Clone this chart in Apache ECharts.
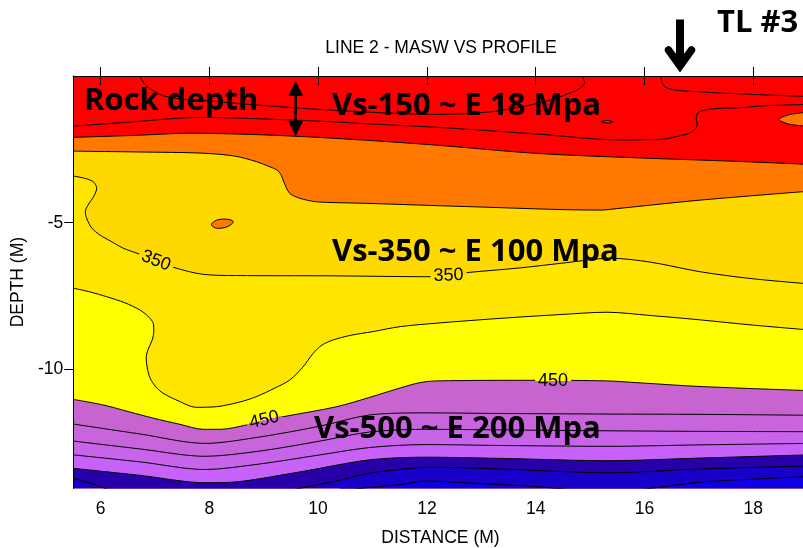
<!DOCTYPE html>
<html><head><meta charset="utf-8">
<script src="https://cdn.jsdelivr.net/npm/echarts@6/dist/echarts.min.js"></script>
<style>html,body{margin:0;padding:0;overflow:hidden;background:#fff;width:803px;height:548px}#c{width:830px;height:548px}</style>
</head><body><div id="c"></div>
<script>
// ---- data (distance in m, depth in m) ----
const xTicks = [6, 8, 10, 12, 14, 16, 18];
const yTicks = [-5, -10];
const topEdge = [[5.5, 0], [19, 0]];
const redLine1 = [[6.72,0],[6.75,-0.10],[6.81,-0.27],[6.95,-0.48],[7.15,-0.67],[7.55,-0.80],[7.94,-0.84],[8.80,-0.98],[10.40,-1.18],[12.20,-1.31],[13.12,-1.23],[13.71,-1.06],[14.23,-0.84],[14.63,-0.58],[14.82,-0.41],[14.90,-0.22],[14.85,0]];
const redLine2 = [[16.30,0],[16.32,-0.20],[16.38,-0.38],[16.62,-0.49],[17.66,-0.60],[19.0,-0.70]];
const redLine3 = [[5.5,-1.71],[6.54,-1.57],[7.83,-1.41],[9.78,-1.52],[11.14,-1.65],[12.20,-1.75],[14.04,-1.98],[15.57,-2.18],[16.29,-2.16],[16.65,-2.04],[16.87,-1.91],[16.97,-1.67],[16.95,-1.43],[17.00,-1.23],[17.24,-1.12],[17.76,-1.08],[18.25,-1.01],[19.0,-0.97]];
const orangeTop = [[5.5,-2.09],[6.54,-2.03],[7.70,-1.95],[8.75,-1.99],[9.78,-2.07],[11.14,-2.22],[12.20,-2.36],[14.04,-2.64],[15.88,-2.79],[17.72,-2.91],[19.0,-3.01]];
const goldTop = [[5.5,-2.56],[6.73,-2.59],[7.88,-2.63],[8.47,-2.73],[8.87,-2.92],[9.08,-3.07],[9.24,-3.20],[9.32,-3.37],[9.37,-3.61],[9.48,-4.00],[9.67,-4.17],[9.94,-4.28],[10.22,-4.31],[10.89,-4.34],[12.73,-4.45],[15.18,-4.57],[15.49,-4.52],[17.02,-4.23],[19.0,-3.93]];
const contour350 = [[5.5,-3.41],[5.72,-3.49],[5.87,-3.61],[5.93,-3.82],[5.88,-4.09],[5.77,-4.40],[5.72,-4.63],[5.75,-4.87],[5.84,-5.18],[5.99,-5.42],[6.18,-5.62],[6.41,-5.86],[6.67,-6.04],[7.00,-6.27],[7.34,-6.52],[7.89,-6.76],[8.50,-6.80],[10.22,-6.81],[12.06,-6.84],[12.79,-6.69],[13.71,-6.54],[14.57,-6.36],[15.37,-6.21],[16.10,-6.34],[17.02,-6.67],[17.94,-6.90],[19.0,-7.08]];
const yellowTop = [[5.5,-7.23],[5.81,-7.36],[6.11,-7.52],[6.45,-7.73],[6.72,-7.97],[6.87,-8.18],[6.97,-8.43],[6.98,-8.69],[6.95,-9.00],[6.87,-9.34],[6.84,-9.61],[6.86,-9.95],[6.91,-10.29],[7.02,-10.60],[7.15,-10.81],[7.43,-11.07],[7.76,-11.29],[8.13,-11.27],[8.56,-11.11],[8.86,-10.93],[9.21,-10.63],[9.48,-10.36],[9.72,-9.92],[9.91,-9.45],[10.07,-9.17],[10.27,-9.00],[10.59,-8.84],[11.01,-8.71],[11.51,-8.54],[12.20,-8.42],[13.34,-8.26],[14.45,-8.13],[15.31,-8.05],[16.10,-8.16],[17.02,-8.31],[17.94,-8.48],[19.0,-8.65]];
const contour450 = [[5.5,-11.02],[6.05,-11.21],[6.54,-11.45],[6.97,-11.66],[7.46,-11.87],[7.89,-12.04],[8.20,-12.04],[8.69,-11.89],[9.01,-11.74],[9.36,-11.61],[10.34,-11.27],[10.95,-10.95],[11.51,-10.63],[11.87,-10.45],[12.18,-10.39],[14.04,-10.37],[15.31,-10.39],[15.86,-10.45],[17.02,-10.58],[19.0,-10.72]];
const purple1Top = [[5.5,-11.86],[6.73,-12.20],[7.92,-12.52],[8.93,-12.30],[10.04,-11.93],[10.95,-11.55],[11.97,-11.48],[13.34,-11.50],[15.31,-11.52],[17.02,-11.53],[19.0,-11.56]];
const purple2Top = [[5.5,-12.44],[6.73,-12.71],[7.92,-12.96],[8.93,-12.78],[10.04,-12.44],[10.95,-12.13],[11.97,-12.04],[13.34,-12.06],[15.31,-12.09],[17.02,-12.11],[19.0,-12.12]];
const purple3Top = [[5.5,-12.91],[6.73,-13.15],[7.92,-13.41],[8.93,-13.22],[10.04,-12.91],[10.95,-12.66],[11.97,-12.56],[13.34,-12.59],[15.31,-12.62],[17.02,-12.57],[19.0,-12.52]];
const darkBlueTop = [[5.5,-13.37],[6.73,-13.61],[7.92,-13.86],[8.56,-13.82],[9.67,-13.49],[10.95,-13.08],[11.97,-12.99],[13.34,-13.03],[15.31,-13.11],[17.02,-13.02],[19.0,-12.91]];
const blueTop = [[5.5,-13.71],[5.93,-13.94],[6.18,-14.11],[7.9,-14.25],[9.48,-14.11],[9.67,-14.05],[10.40,-13.77],[10.95,-13.53],[11.51,-13.41],[12.00,-13.33],[13.34,-13.39],[15.31,-13.52],[17.02,-13.39],[19.0,-13.29]];
const brightBlueTop = [[10.40,-14.15],[10.77,-14.06],[11.14,-13.99],[11.51,-13.92],[12.00,-13.80],[12.61,-13.85],[13.34,-13.92],[14.08,-14.00],[14.45,-14.07],[15.18,-14.15],[15.90,-14.10],[16.10,-14.06],[16.65,-13.92],[17.02,-13.84],[17.63,-13.77],[19.0,-13.65]];
const orangeSpot = [[8.04,-5.06],[8.09,-4.96],[8.18,-4.89],[8.31,-4.88],[8.40,-4.91],[8.44,-4.97],[8.40,-5.06],[8.31,-5.15],[8.18,-5.19],[8.09,-5.16]];
const orangeEdgePatch = [[18.47,-1.48],[18.56,-1.38],[18.68,-1.31],[18.91,-1.25],[19.0,-1.24],[19.0,-1.72],[18.91,-1.70],[18.68,-1.65],[18.56,-1.58]];
const tinySpot = [[15.20,-1.56],[15.26,-1.53],[15.31,-1.52],[15.37,-1.53],[15.42,-1.56],[15.37,-1.59],[15.31,-1.60],[15.26,-1.59]];
const contourLabelPos = [[7.02,-6.30],[12.40,-6.80],[9.01,-11.72],[14.32,-10.39]];
const contourLabelText = ['350', '350', '450', '450'];

// ---- styles ----
const labelAngle = [-0.37, 0.04, 0.23, 0];
const labelGapColors = [['#FFD800','#FFE600'],['#FFD800','#FFE600'],['#FFFF00','#C864D0'],['#FFFF00','#C864D0']];
const FONT = '"Liberation Sans", Arial, sans-serif';
const BOLD = 'bold 31px "Open Sans", "Noto Sans", sans-serif';

function band(data, color, stroke) {
  return { type: 'line', data: data, smooth: 0.3, symbol: 'none', silent: true, z: 2,
    lineStyle: { color: '#000', width: stroke ? 1 : 0 },
    areaStyle: { color: color, opacity: 1, origin: 'start' } };
}
function line(data) {
  return { type: 'line', data: data, smooth: 0.3, symbol: 'none', silent: true, z: 3,
    lineStyle: { color: '#000', width: 1 } };
}
function patch(pts, fill) {
  return { type: 'custom', data: pts, clip: true, z: 4, silent: true,
    renderItem: function (params, api) {
      if (params.dataIndex !== 0) return null;
      const points = pts.map(function (p) { return api.coord(p); });
      return { type: 'polygon', shape: { points: points, smooth: 0.4 },
        style: { fill: fill, stroke: '#000', lineWidth: 1 } };
    } };
}

const chart = echarts.init(document.getElementById('c'), null, { renderer: 'canvas' });
chart.setOption({
  animation: false,
  backgroundColor: '#fff',
  title: { text: 'LINE 2 - MASW VS PROFILE', left: 441, top: 39.5, padding: 0, textAlign: 'center',
    textStyle: { fontSize: 17.5, fontWeight: 'normal', color: '#000', fontFamily: FONT } },
  grid: { left: 73.3, top: 76, right: 22.3, bottom: 59.7, containLabel: false, outerBoundsMode: 'none' },
  xAxis: [
    { type: 'value', position: 'bottom', min: 5.5, max: 19, z: 10,
      name: 'DISTANCE (M)', nameLocation: 'middle', nameGap: 41,
      nameTextStyle: { fontSize: 17.5, color: '#000', fontFamily: FONT },
      axisLine: { show: true, lineStyle: { color: '#000', width: 1 } },
      axisTick: { show: true, length: 9, inside: false, customValues: xTicks, lineStyle: { color: '#000' } },
      axisLabel: { show: true, customValues: xTicks, margin: 12, fontSize: 17.5, color: '#000', fontFamily: FONT },
      splitLine: { show: false } },
    { type: 'value', position: 'top', min: 5.5, max: 19, z: 10,
      axisLine: { show: true, onZero: false, lineStyle: { color: '#000', width: 1 } },
      axisTick: { show: true, length: 9, inside: false, customValues: xTicks, lineStyle: { color: '#000' } },
      axisLabel: { show: false }, splitLine: { show: false } }
  ],
  yAxis: [
    { type: 'value', position: 'left', min: -14.05, max: 0, z: 10,
      name: 'DEPTH (M)', nameLocation: 'middle', nameGap: 45.5,
      nameTextStyle: { fontSize: 17.5, color: '#000', fontFamily: FONT },
      axisLine: { show: true, onZero: false, lineStyle: { color: '#000', width: 1 } },
      axisTick: { show: true, length: 9, inside: false, customValues: yTicks, lineStyle: { color: '#000' } },
      axisLabel: { show: true, customValues: yTicks, margin: 10, fontSize: 17.5, color: '#000', fontFamily: FONT },
      splitLine: { show: false } },
    { type: 'value', position: 'right', min: -14.05, max: 0, z: 10,
      axisLine: { show: true, onZero: false, lineStyle: { color: '#000', width: 1 } },
      axisTick: { show: false }, axisLabel: { show: false }, splitLine: { show: false } }
  ],
  series: [
    band(topEdge, '#FF0000', false),
    band(orangeTop, '#FF7800', true),
    band(goldTop, '#FFD800', true),
    band(contour350, '#FFE600', true),
    band(yellowTop, '#FFFF00', true),
    band(contour450, '#C864D0', true),
    band(purple1Top, '#C864DC', true),
    band(purple2Top, '#C864EA', true),
    band(purple3Top, '#C860FA', true),
    band(darkBlueTop, '#2800AA', true),
    band(blueTop, '#1800C8', true),
    band(brightBlueTop, '#1000E6', true),
    line(redLine1),
    line(redLine2),
    line(redLine3),
    patch(orangeSpot, '#FF7800'),
    patch(orangeEdgePatch, '#FF7800'),
    patch(tinySpot, '#E04000'),
    { type: 'custom', data: contourLabelPos, z: 5, silent: true,
      renderItem: function (params, api) {
        const i = params.dataIndex;
        const p = api.coord([api.value(0), api.value(1)]);
        const c = labelGapColors[i];
        return { type: 'group', x: p[0], y: p[1], rotation: labelAngle[i], children: [
          { type: 'rect', shape: { x: -18, y: -3, width: 36, height: 6 },
            style: { fill: new echarts.graphic.LinearGradient(0, 0, 0, 1, [
              { offset: 0, color: c[0] }, { offset: 0.5, color: c[0] },
              { offset: 0.5, color: c[1] }, { offset: 1, color: c[1] }]) } },
          { type: 'text', style: { text: contourLabelText[i], x: 0, y: 0, align: 'center', verticalAlign: 'middle',
            font: '18px ' + FONT, fill: '#000' } }
        ] };
      } }
  ],
  graphic: [
    { type: 'text', x: 84, y: 101, z: 100, style: { text: 'Rock depth', font: BOLD, fill: '#000', align: 'left', verticalAlign: 'middle' } },
    { type: 'text', x: 332, y: 106.3, z: 100, style: { text: 'Vs-150 ~ E 18 Mpa', font: BOLD, fill: '#000', align: 'left', verticalAlign: 'middle' } },
    { type: 'text', x: 332, y: 252, z: 100, style: { text: 'Vs-350 ~ E 100 Mpa', font: BOLD, fill: '#000', align: 'left', verticalAlign: 'middle' } },
    { type: 'text', x: 314, y: 428.7, z: 100, style: { text: 'Vs-500 ~ E 200 Mpa', font: BOLD, fill: '#000', align: 'left', verticalAlign: 'middle' } },
    { type: 'text', x: 717, y: 23, z: 100, style: { text: 'TL #3', font: BOLD, fill: '#000', align: 'left', verticalAlign: 'middle' } },
    { type: 'line', z: 100, shape: { x1: 295.7, y1: 90, x2: 295.7, y2: 127 }, style: { stroke: '#000', lineWidth: 2.5 } },
    { type: 'polygon', z: 100, shape: { points: [[295.7, 81], [288.3, 96], [303.1, 96]] }, style: { fill: '#000' } },
    { type: 'polygon', z: 100, shape: { points: [[295.7, 136], [288.3, 121], [303.1, 121]] }, style: { fill: '#000' } },
    { type: 'line', z: 100, shape: { x1: 680, y1: 19.5, x2: 680, y2: 64 }, style: { stroke: '#000', lineWidth: 8 } },
    { type: 'polyline', z: 100, shape: { points: [[668.5, 50], [680, 66], [691.5, 50]] }, style: { stroke: '#000', lineWidth: 7.5, lineCap: 'round', lineJoin: 'miter', fill: null } }
  ]
});
</script></body></html>
